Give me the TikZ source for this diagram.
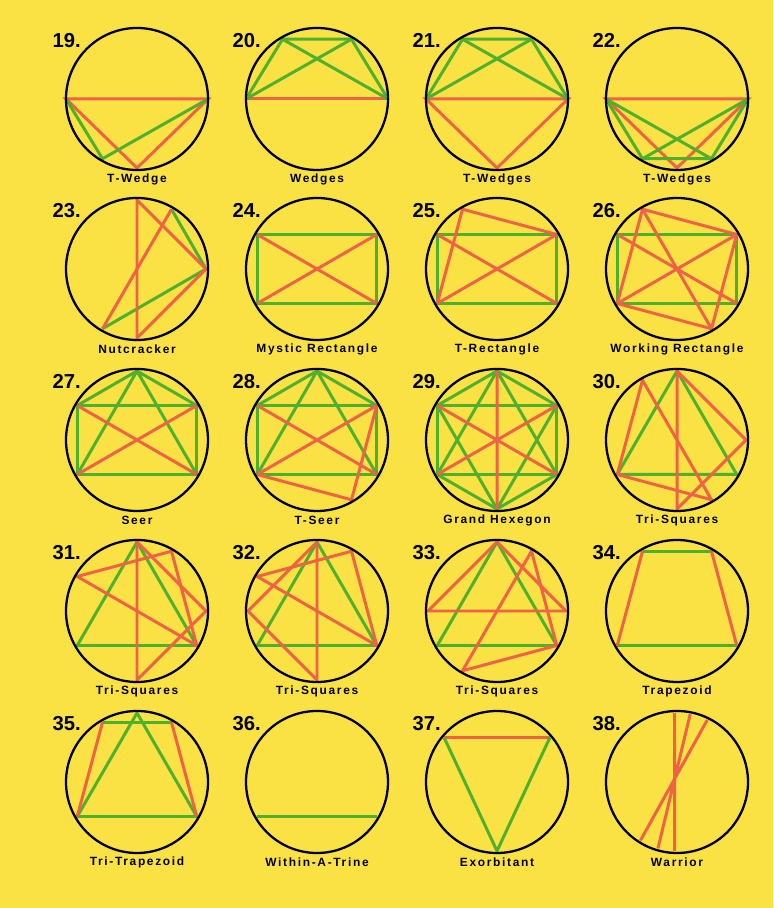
\documentclass[tikz,border=0pt]{standalone}
\usepackage{fontspec}
\newfontfamily\numfont{Liberation Sans}
\newfontfamily\labfont[LetterSpace=14]{Liberation Sans}
\definecolor{bgyellow}{RGB}{250,225,68}
\definecolor{chordred}{RGB}{240,98,70}
\definecolor{chordgreen}{RGB}{78,176,45}
\newcommand{\ringr}{71}
\newcommand{\chr}{69}

\begin{document}
\begin{tikzpicture}[x=0.02cm, y=0.02cm,
  ring/.style={draw=black, line width=1.3pt},
  rd/.style={draw=chordred, line width=1.7pt},
  gr/.style={draw=chordgreen, line width=1.7pt},
  num/.style={anchor=base east, inner sep=0pt, font=\numfont\bfseries\fontsize{11.5}{12}\selectfont},
  lab/.style={inner sep=0pt, font=\labfont\bfseries\fontsize{6.8}{7}\selectfont}]
  \fill[bgyellow] (0,0) rectangle (773,908);
  \useasboundingbox (0,0) rectangle (773,908);

  \foreach \n/\cx/\cy/\name in {19/137/809/T-Wedge, 20/317/809/Wedges, 21/497/809/T-Wedges, 22/677/809/T-Wedges,
      23/137/639/Nutcracker, 24/317/639/Mystic Rectangle, 25/497/639/T-Rectangle, 26/677/639/Working Rectangle,
      27/137/468/Seer, 28/317/468/T-Seer, 29/497/468/Grand Hexegon, 30/677/468/Tri-Squares,
      31/137/297/Tri-Squares, 32/317/297/Tri-Squares, 33/497/297/Tri-Squares, 34/677/297/Trapezoid,
      35/137/126/Tri-Trapezoid, 36/317/126/Within-A-Trine, 37/497/126/Exorbitant, 38/677/126/Warrior} {
    \coordinate (c\n) at (\cx,\cy);
    \node[num] (n\n) at (\cx-56,\cy+51) {\n.};
    \node[lab] (t\n) at (\cx,\cy-80) {\name};
  }

  \begin{scope}[shift={(c19)}]
    \draw[rd] (180:\ringr) -- (0:\ringr) -- (270:\chr) -- cycle;
    \draw[gr] (180:\ringr) -- (240:\chr) -- (0:\ringr);
  \end{scope}
  \begin{scope}[shift={(c20)}]
    \draw[rd] (180:\ringr) -- (0:\ringr);
    \draw[gr] (180:\ringr) -- (120:\chr) -- (60:\chr) -- (0:\ringr);
    \draw[gr] (180:\ringr) -- (60:\chr) (120:\chr) -- (0:\ringr);
  \end{scope}
  \begin{scope}[shift={(c21)}]
    \draw[rd] (180:\ringr) -- (0:\ringr) -- (270:\chr) -- cycle;
    \draw[gr] (180:\ringr) -- (120:\chr) -- (60:\chr) -- (0:\ringr);
    \draw[gr] (180:\ringr) -- (60:\chr) (120:\chr) -- (0:\ringr);
  \end{scope}
  \begin{scope}[shift={(c22)}]
    \draw[rd] (180:\ringr) -- (0:\ringr) -- (270:\chr) -- cycle;
    \draw[gr] (180:\ringr) -- (240:\chr) -- (300:\chr) -- (0:\ringr);
    \draw[gr] (180:\ringr) -- (300:\chr) (240:\chr) -- (0:\ringr);
  \end{scope}

  \begin{scope}[shift={(c23)}]
    \draw[gr] (60:\chr) -- (0:\chr) -- (240:\chr);
    \draw[rd] (90:\chr) -- (270:\chr) -- (0:\chr) -- cycle;
    \draw[rd] (60:\chr) -- (240:\chr);
  \end{scope}
  \begin{scope}[shift={(c24)}]
    \draw[gr] (150:\chr) -- (30:\chr) -- (330:\chr) -- (210:\chr) -- cycle;
    \draw[rd] (150:\chr) -- (330:\chr) (30:\chr) -- (210:\chr);
  \end{scope}
  \begin{scope}[shift={(c25)}]
    \draw[gr] (150:\chr) -- (30:\chr) -- (330:\chr) -- (210:\chr) -- cycle;
    \draw[rd] (150:\chr) -- (330:\chr) (30:\chr) -- (210:\chr);
    \draw[rd] (210:\chr) -- (120:\chr) -- (30:\chr);
  \end{scope}
  \begin{scope}[shift={(c26)}]
    \draw[gr] (150:\chr) -- (30:\chr) -- (330:\chr) -- (210:\chr) -- cycle;
    \draw[rd] (150:\chr) -- (330:\chr) (30:\chr) -- (210:\chr);
    \draw[rd] (120:\chr) -- (30:\chr) -- (300:\chr) -- (210:\chr) -- cycle;
    \draw[rd] (120:\chr) -- (300:\chr);
  \end{scope}

  \begin{scope}[shift={(c27)}]
    \draw[gr] (150:\chr) -- (30:\chr) -- (330:\chr) -- (210:\chr) -- cycle;
    \draw[gr] (150:\chr) -- (90:\chr) -- (30:\chr) (210:\chr) -- (90:\chr) -- (330:\chr);
    \draw[rd] (150:\chr) -- (330:\chr) (30:\chr) -- (210:\chr);
  \end{scope}
  \begin{scope}[shift={(c28)}]
    \draw[gr] (150:\chr) -- (30:\chr) -- (330:\chr) -- (210:\chr) -- cycle;
    \draw[gr] (150:\chr) -- (90:\chr) -- (30:\chr) (210:\chr) -- (90:\chr) -- (330:\chr);
    \draw[rd] (150:\chr) -- (330:\chr) (30:\chr) -- (210:\chr);
    \draw[rd] (30:\chr) -- (300:\chr) -- (210:\chr);
  \end{scope}
  \begin{scope}[shift={(c29)}]
    \draw[gr] (150:\chr) -- (30:\chr) -- (330:\chr) -- (210:\chr) -- cycle;
    \draw[gr] (150:\chr) -- (90:\chr) -- (30:\chr) (210:\chr) -- (90:\chr) -- (330:\chr);
    \draw[gr] (150:\chr) -- (270:\chr) -- (30:\chr) (210:\chr) -- (270:\chr) -- (330:\chr);
    \draw[rd] (90:\chr) -- (270:\chr) (150:\chr) -- (330:\chr) (30:\chr) -- (210:\chr);
  \end{scope}
  \begin{scope}[shift={(c30)}]
    \draw[gr] (90:\chr) -- (210:\chr) -- (330:\chr) -- cycle;
    \draw[rd] (90:\chr) -- (0:\chr) -- (270:\chr) -- cycle;
    \draw[rd] (120:\chr) -- (210:\chr) -- (300:\chr) -- cycle;
  \end{scope}

  \begin{scope}[shift={(c31)}]
    \draw[gr] (90:\chr) -- (210:\chr) -- (330:\chr) -- cycle;
    \draw[rd] (90:\chr) -- (0:\chr) -- (270:\chr) -- cycle;
    \draw[rd] (150:\chr) -- (60:\chr) -- (330:\chr) -- cycle;
  \end{scope}
  \begin{scope}[shift={(c32)}]
    \draw[gr] (90:\chr) -- (210:\chr) -- (330:\chr) -- cycle;
    \draw[rd] (90:\chr) -- (180:\chr) -- (270:\chr) -- cycle;
    \draw[rd] (150:\chr) -- (60:\chr) -- (330:\chr) -- cycle;
  \end{scope}
  \begin{scope}[shift={(c33)}]
    \draw[gr] (90:\chr) -- (210:\chr) -- (330:\chr) -- cycle;
    \draw[rd] (90:\chr) -- (180:\chr) -- (0:\chr) -- cycle;
    \draw[rd] (60:\chr) -- (240:\chr) -- (330:\chr) -- cycle;
  \end{scope}
  \begin{scope}[shift={(c34)}]
    \draw[gr] (120:\chr) -- (60:\chr) (210:\chr) -- (330:\chr);
    \draw[rd] (120:\chr) -- (210:\chr) (60:\chr) -- (330:\chr);
  \end{scope}

  \begin{scope}[shift={(c35)}]
    \draw[gr] (90:\chr) -- (210:\chr) -- (330:\chr) -- cycle;
    \draw[gr] (120:\chr) -- (60:\chr);
    \draw[rd] (120:\chr) -- (210:\chr) (60:\chr) -- (330:\chr);
  \end{scope}
  \begin{scope}[shift={(c36)}]
    \draw[gr] (210:\chr) -- (330:\chr);
  \end{scope}
  \begin{scope}[shift={(c37)}]
    \draw[rd] (140:\chr) -- (40:\chr);
    \draw[gr] (140:\chr) -- (270:\chr) -- (40:\chr);
  \end{scope}
  \begin{scope}[shift={(c38)}]
    \draw[rd] (92:\chr) -- (268:\chr) (79:\chr) -- (254:\chr) (64:\chr) -- (238:\chr);
  \end{scope}

  \foreach \n in {19,...,38}
    \draw[ring] (c\n) circle (\ringr);
\end{tikzpicture}
\end{document}
